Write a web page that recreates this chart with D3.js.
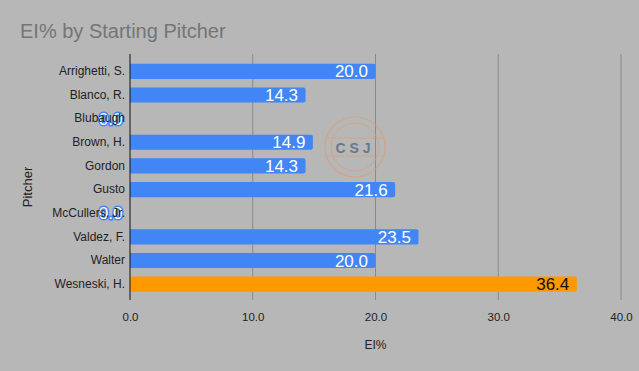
<!DOCTYPE html>
<html>
<head>
<meta charset="utf-8">
<script src="https://cdn.jsdelivr.net/npm/d3@7"></script>
<style>
  html, body { margin: 0; padding: 0; background: #b7b7b7; }
  svg { display: block; font-family: Arial, "Liberation Sans", sans-serif; }
</style>
</head>
<body>
<div id="chart"></div>
<script>
'use strict';

var pitchers = ['Arrighetti, S.', 'Blanco, R.', 'Blubaugh', 'Brown, H.', 'Gordon', 'Gusto',
  'McCullers, Jr.', 'Valdez, F.', 'Walter', 'Wesneski, H.'];
var eiPct = [20.0, 14.3, 0.0, 14.9, 14.3, 21.6, 0.0, 23.5, 20.0, 36.4];
var highlight = ['Wesneski, H.'];
var xTicks = [0, 10, 20, 30, 40];

var chartWidth = 639, chartHeight = 371;
var plotLeft = 130, plotRight = 621, plotTop = 59.5, plotBottom = 296;

var svg = d3.select('#chart').append('svg')
  .attr('width', chartWidth)
  .attr('height', chartHeight);

svg.append('rect')
  .attr('width', chartWidth)
  .attr('height', chartHeight)
  .style('fill', '#b7b7b7');

// title
svg.append('text')
  .attr('x', 20)
  .attr('y', 38)
  .style('font-size', '20px')
  .style('fill', '#757575')
  .text('EI% by Starting Pitcher');

var x = d3.scaleLinear().domain([0, 40]).range([plotLeft, plotRight]);
var y = d3.scaleBand().domain(pitchers).range([plotTop, plotBottom]).paddingInner(0.36).paddingOuter(0.18);

// gridlines
svg.append('g').selectAll('line')
  .data(xTicks.slice(1))
  .enter()
  .append('line')
  .attr('x1', function(d) { return x(d); })
  .attr('x2', function(d) { return x(d); })
  .attr('y1', 54)
  .attr('y2', 300)
  .style('stroke', '#8a8a8a')
  .style('stroke-width', 1);

// x axis tick labels
var xAxis = svg.append('g')
  .attr('transform', 'translate(0,300)')
  .call(d3.axisBottom(x).tickValues(xTicks).tickSize(0).tickPadding(13).tickFormat(d3.format('.1f')));
xAxis.select('.domain').remove();
xAxis.selectAll('text')
  .style('font-size', '11.5px')
  .style('font-family', 'Arial, "Liberation Sans", sans-serif')
  .style('fill', '#222');

// bars
var barPath = function(d, i) {
  var x0 = x(0), x1 = x(eiPct[i]), y0 = y(d), h = y.bandwidth(), r = 2;
  if (x1 - x0 < r) { return ''; }
  return 'M' + x0 + ',' + y0 + 'H' + (x1 - r) + 'Q' + x1 + ',' + y0 + ' ' + x1 + ',' + (y0 + r) +
    'V' + (y0 + h - r) + 'Q' + x1 + ',' + (y0 + h) + ' ' + (x1 - r) + ',' + (y0 + h) + 'H' + x0 + 'Z';
};
svg.append('g').selectAll('path')
  .data(pitchers)
  .enter()
  .append('path')
  .attr('d', barPath)
  .style('fill', function(d) { return highlight.indexOf(d) >= 0 ? '#ff9900' : '#4285f4'; });

// zero axis line
svg.append('line')
  .attr('x1', x(0)).attr('x2', x(0))
  .attr('y1', 54).attr('y2', 300)
  .style('stroke', '#111')
  .style('stroke-width', 1);

// watermark
var wm = svg.append('g').attr('transform', 'translate(355,147)').style('opacity', 0.6);
wm.append('circle').attr('r', 30).style('fill', 'none').style('stroke', '#e39a6a').style('stroke-width', 1.2);
wm.append('circle').attr('r', 24).style('fill', 'none').style('stroke', '#e39a6a').style('stroke-width', 1);
wm.append('line').attr('x1', -31).attr('x2', 31).attr('y1', -9).attr('y2', -9).style('stroke', '#e39a6a');
wm.append('line').attr('x1', -31).attr('x2', 31).attr('y1', 9).attr('y2', 9).style('stroke', '#e39a6a');
wm.append('text').attr('text-anchor', 'middle').attr('y', 6)
  .style('font-size', '14px').style('font-weight', 'bold').style('letter-spacing', '4px')
  .style('fill', '#34506e').text('CSJ');

// value labels (drawn under the pitcher names, as in the original)
svg.append('g').selectAll('text')
  .data(pitchers)
  .enter()
  .append('text')
  .attr('x', function(d, i) { return x(eiPct[i]) - 7.5; })
  .attr('y', function(d) { return y(d) + y.bandwidth() / 2; })
  .attr('dy', '0.36em')
  .attr('text-anchor', 'end')
  .style('font-size', '17px')
  .style('paint-order', 'stroke')
  .style('stroke', function(d, i) { return eiPct[i] === 0 ? '#4285f4' : 'none'; })
  .style('stroke-width', 3)
  .style('fill', function(d) { return highlight.indexOf(d) >= 0 ? '#111' : '#fff'; })
  .text(function(d, i) { return d3.format('.1f')(eiPct[i]); });

// y axis labels
var yAxis = svg.append('g')
  .attr('transform', 'translate(' + plotLeft + ',0)')
  .call(d3.axisLeft(y).tickSize(0).tickPadding(5));
yAxis.select('.domain').remove();
yAxis.selectAll('text')
  .style('font-size', '12px')
  .style('font-family', 'Arial, "Liberation Sans", sans-serif')
  .style('fill', '#222');

// axis titles
svg.append('text')
  .attr('x', x(20))
  .attr('y', 349)
  .attr('text-anchor', 'middle')
  .style('font-size', '12px')
  .style('fill', '#222')
  .text('EI%');

svg.append('text')
  .attr('transform', 'translate(32,187) rotate(-90)')
  .attr('text-anchor', 'middle')
  .style('font-size', '13px')
  .style('fill', '#222')
  .text('Pitcher');
</script>
</body>
</html>
